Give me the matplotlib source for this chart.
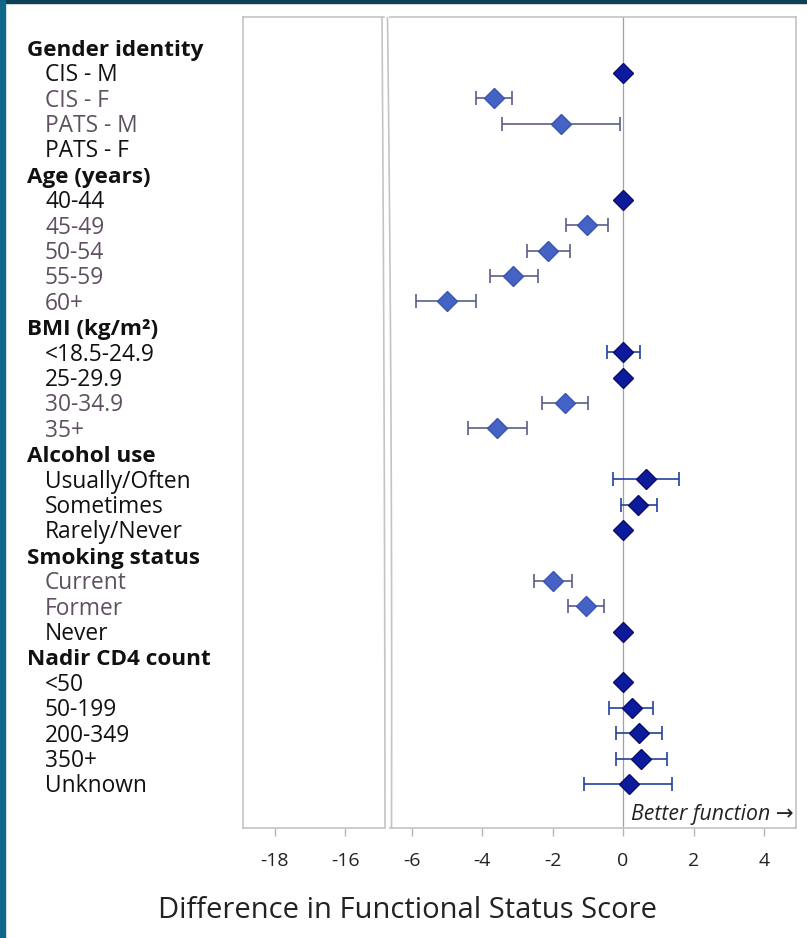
import numpy as np
import matplotlib.pyplot as plt
from matplotlib.lines import Line2D
from matplotlib.patches import Rectangle
from matplotlib.transforms import blended_transform_factory

plt.rcParams['font.family'] = ['Open Sans', 'DejaVu Sans']
plt.rcParams['axes.unicode_minus'] = False

nan = np.nan

# rows, top to bottom
row_labels = ["Gender identity", "CIS - M", "CIS - F", "PATS - M", "PATS - F",
              "Age (years)", "40-44", "45-49", "50-54", "55-59", "60+",
              "BMI (kg/m²)", "<18.5-24.9", "25-29.9", "30-34.9", "35+",
              "Alcohol use", "Usually/Often", "Sometimes", "Rarely/Never",
              "Smoking status", "Current", "Former", "Never",
              "Nadir CD4 count", "<50", "50-199", "200-349", "350+", "Unknown"]
headers = ["Gender identity", "Age (years)", "BMI (kg/m²)", "Alcohol use",
           "Smoking status", "Nadir CD4 count"]

estimate = [nan, 0, -3.67, -1.76, nan,
            nan, 0, -1.03, -2.13, -3.13, -5.00,
            nan, 0, 0, -1.65, -3.58,
            nan, 0.65, 0.43, 0,
            nan, -1.99, -1.05, 0,
            nan, 0, 0.25, 0.46, 0.52, 0.17]
lower = [nan, nan, -4.18, -3.44, nan,
         nan, nan, -1.63, -2.73, -3.78, -5.88,
         nan, -0.45, nan, -2.30, -4.40,
         nan, -0.28, -0.06, nan,
         nan, -2.53, -1.56, nan,
         nan, nan, -0.39, -0.20, -0.20, -1.10]
upper = [nan, nan, -3.16, -0.09, nan,
         nan, nan, -0.43, -1.50, -2.41, -4.18,
         nan, 0.48, nan, -1.00, -2.73,
         nan, 1.59, 0.97, nan,
         nan, -1.45, -0.54, nan,
         nan, nan, 0.84, 1.11, 1.24, 1.40]
significant = ["CIS - F", "PATS - M", "45-49", "50-54", "55-59", "60+",
               "30-34.9", "35+", "Current", "Former"]

W, H = 807, 938
fig = plt.figure(figsize=(W / 100, H / 100), dpi=100)
fig.patch.set_facecolor('white')

top, bottom = 17.5, 828
ax_l = fig.add_axes([243 / W, 1 - bottom / H, (384 - 243) / W, (bottom - top) / H])
ax_r = fig.add_axes([390 / W, 1 - bottom / H, (796 - 390) / W, (bottom - top) / H])

n = len(row_labels)
ypos = np.arange(n)
step = 25.41
for ax in (ax_l, ax_r):
    ax.set_ylim(n - 1 + 44 / step, -30 / step)
    ax.set_yticks([])
    ax.tick_params(axis='x', colors='#b5b5b5', length=6, width=1,
                   labelsize=14, labelcolor='#222222', pad=11)
    for s in ax.spines.values():
        s.set_color('#c4c4c4')
        s.set_linewidth(1.2)

ax_l.set_xlim(-18.9, -14.9)
ax_l.set_xticks([-18, -16])
ax_l.spines['right'].set_visible(False)
ax_r.set_xlim(-6.62, 4.91)
ax_r.set_xticks([-6, -4, -2, 0, 2, 4])
ax_r.spines['left'].set_visible(False)

# reference line at 0
ax_r.axvline(0, color='#a0a0a0', lw=0.9, zorder=1)

for i, lab in enumerate(row_labels):
    if np.isnan(estimate[i]):
        continue
    sig = lab in significant
    face = '#4563c4' if sig else '#0c1a9c'
    edge = '#3b55b0' if sig else '#0a0f6e'
    ecol = '#5a5d88' if sig else '#2440a0'
    if not np.isnan(lower[i]):
        ax_r.errorbar(estimate[i], ypos[i],
                      xerr=[[estimate[i] - lower[i]], [upper[i] - estimate[i]]],
                      fmt='none', ecolor=ecol, elinewidth=1.2, capsize=5,
                      capthick=1.2, zorder=2)
    ax_r.plot(estimate[i], ypos[i], marker='D', ms=10, mfc=face, mec=edge,
              mew=1, ls='none', zorder=3)

# row labels (baseline a little below the row centre)
trans = blended_transform_factory(fig.transFigure, ax_l.transData)
for i, lab in enumerate(row_labels):
    if lab in headers:
        ax_l.text(27 / W, ypos[i] + 0.33, lab, transform=trans, ha='left',
                  va='baseline', fontsize=16.2, fontweight='bold',
                  color='#111111', clip_on=False)
    else:
        col = '#5e5060' if lab in significant else '#111111'
        ax_l.text(45 / W, ypos[i] + 0.33, lab, transform=trans, ha='left',
                  va='baseline', fontsize=16.4, color=col, clip_on=False)

# axis break edges
yy = np.linspace(top, bottom, 60)
t = (yy - top) / (bottom - top)
xl = 382 + 5.5 * t - 2.5 * t ** 2
xr = 387.5 + 10 * t - 6 * t ** 2
for xs in (xl, xr):
    fig.add_artist(Line2D(xs / W, 1 - yy / H, color='#c4c4c4', lw=1.2))

ax_r.text(0.993, 0.01, 'Better function \u2192', transform=ax_r.transAxes,
          ha='right', va='baseline', fontsize=15.3, style='italic',
          color='#222222', family=['Open Sans', 'DejaVu Sans'])

fig.text(408 / W, 1 - 910 / H, 'Difference in Functional Status Score',
         ha='center', va='center', fontsize=21, color='#222222')

# dark frame at the top and left edges
fig.add_artist(Rectangle((0, 1 - 3 / H), 1, 3 / H, transform=fig.transFigure,
                         color='#0d3f55', zorder=10))
fig.add_artist(Rectangle((0, 0), 5 / W, 1, transform=fig.transFigure,
                         color='#0f6887', zorder=10))

fig.savefig('out.png', dpi=100)
